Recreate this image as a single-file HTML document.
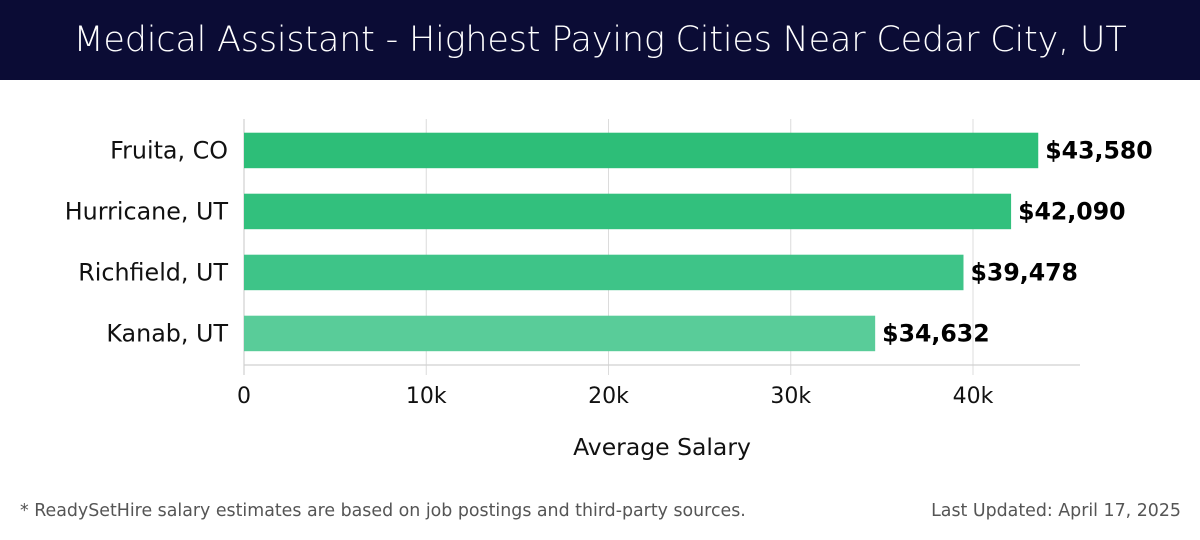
<!DOCTYPE html>
<html><head><meta charset="utf-8"><style>
body{margin:0;width:1200px;height:540px;background:#fff;font-family:"DejaVu Sans","Liberation Sans",sans-serif;overflow:hidden;position:relative}
#hdr{position:absolute;left:0;top:0;width:1200px;height:80px;background:#0b0c35;color:#fff;font-size:35px;text-align:center;line-height:80px;font-family:"DejaVu Sans","Liberation Sans",sans-serif;font-weight:300;letter-spacing:-0.2px}
.foot{position:absolute;top:501px;font-size:17.4px;color:#555}
</style></head><body>
<div id="hdr">Medical Assistant - Highest Paying Cities Near Cedar City, UT</div>
<svg id="chart" width="1200" height="540" style="position:absolute;left:0;top:0;font-family:'DejaVu Sans',sans-serif"></svg>
<div class="foot" style="left:20px">* ReadySetHire salary estimates are based on job postings and third-party sources.</div>
<div class="foot" style="right:19px">Last Updated: April 17, 2025</div>
<script>
const categories=["Fruita, CO","Hurricane, UT","Richfield, UT","Kanab, UT"];
const values=[43580,42090,39478,34632];
const valueLabels=["$43,580","$42,090","$39,478","$34,632"];
const ticks=[0,10000,20000,30000,40000];
const tickLabels=["0","10k","20k","30k","40k"];
const colors=["#2dbe78","#32c07d","#3ec488","#59cc99"];
const NS="http://www.w3.org/2000/svg";
const svg=document.getElementById('chart');
const x0=244,pxPer=(973-244)/40000;
const X=v=>x0+v*pxPer;
const bandTop=132.7,pitch=61,barH=35.5;
const Y=i=>bandTop+i*pitch;
function mk(t,a){const e=document.createElementNS(NS,t);for(const k in a)e.setAttribute(k,a[k]);svg.appendChild(e);return e;}
ticks.forEach((t,i)=>{
 const g=mk('line',{x1:X(t),x2:X(t),y1:119,y2:375,stroke:'#dcdcdc','stroke-width':1});
 
 
 const tx=mk('text',{x:X(t),y:403,'text-anchor':'middle','font-size':22,fill:'#111'});
 tx.textContent=tickLabels[i];
 
 
});
const ax=mk('line',{x1:x0,x2:1080,y1:365,y2:365,stroke:'#d0d0d0','stroke-width':1.2});


const ay=mk('line',{x1:x0,x2:x0,y1:119,y2:375,stroke:'#d0d0d0','stroke-width':1.2});


categories.forEach((c,i)=>{
 const r=mk('rect',{x:x0,y:Y(i),width:X(values[i])-x0,height:barH,fill:colors[i]});
 
 
 const l=mk('text',{x:228,y:Y(i)+barH/2+8,'text-anchor':'end','font-size':23.8,fill:'#111'});
 l.textContent=c;
 
 
 const v=mk('text',{x:X(values[i])+7,y:Y(i)+barH/2+8,'font-size':23.6,'font-weight':'bold',fill:'#000'});
 v.textContent=valueLabels[i];
 
 
});
const at=mk('text',{x:662,y:455,'text-anchor':'middle','font-size':23.5,fill:'#111'});
at.textContent="Average Salary";


</script>
</body></html>
